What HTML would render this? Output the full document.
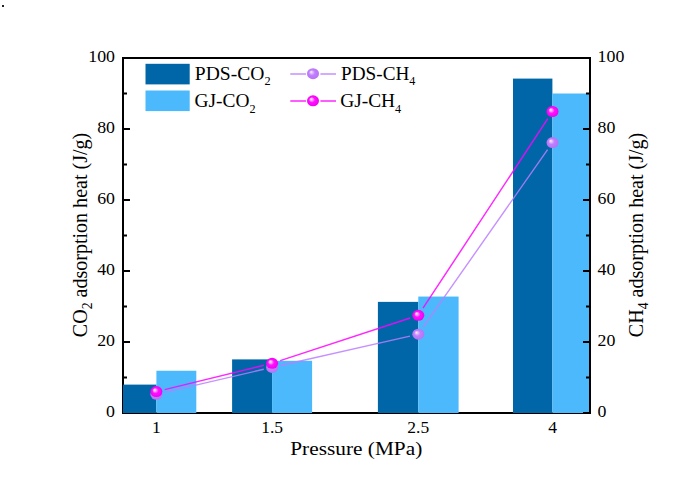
<!DOCTYPE html><html><head><meta charset="utf-8"><style>html,body{margin:0;padding:0;background:#fff;width:685px;height:495px;overflow:hidden}svg{display:block}text{font-family:"Liberation Serif",serif;fill:#000}</style></head><body>
<svg width="685" height="495" viewBox="0 0 685 495">
<defs>
<radialGradient id="gm" cx="0.5" cy="0.5" r="0.5" fx="0.33" fy="0.33">
<stop offset="0" stop-color="#fff4ff"/><stop offset="0.22" stop-color="#ffa8ff"/><stop offset="0.5" stop-color="#ff10ff"/><stop offset="1" stop-color="#f000f0"/></radialGradient>
<radialGradient id="gl" cx="0.5" cy="0.5" r="0.5" fx="0.33" fy="0.33">
<stop offset="0" stop-color="#fbf6ff"/><stop offset="0.22" stop-color="#e0c0ff"/><stop offset="0.5" stop-color="#c27eff"/><stop offset="1" stop-color="#b673f5"/></radialGradient>
<clipPath id="cp"><rect x="123" y="58" width="466" height="355"/></clipPath>
</defs>
<rect x="2" y="5" width="2" height="2" fill="#222"/>
<rect x="123" y="58" width="467" height="355" fill="none" stroke="#000" stroke-width="2"/>
<path d="M123 413.0h7M123 377.5h4M123 342.0h7M123 306.5h4M123 271.0h7M123 235.5h4M123 200.0h7M123 164.5h4M123 129.0h7M123 93.5h4M123 58.0h7" stroke="#000" stroke-width="2" fill="none"/>
<g clip-path="url(#cp)">
<rect x="116.5" y="384.60" width="39.9" height="28.40" fill="#0066a8"/>
<rect x="156.4" y="370.75" width="39.9" height="42.25" fill="#4bb9fc"/>
<rect x="232.1" y="359.39" width="40.0" height="53.61" fill="#0066a8"/>
<rect x="272.1" y="360.81" width="40.0" height="52.19" fill="#4bb9fc"/>
<rect x="377.9" y="301.88" width="40.4" height="111.12" fill="#0066a8"/>
<rect x="418.3" y="296.56" width="40.3" height="116.44" fill="#4bb9fc"/>
<rect x="513.0" y="78.59" width="39.4" height="334.41" fill="#0066a8"/>
<rect x="552.4" y="93.50" width="40.0" height="319.50" fill="#4bb9fc"/>
</g>
<path d="M590 413.0h-7M590 377.5h-4M590 342.0h-7M590 306.5h-4M590 271.0h-7M590 235.5h-4M590 200.0h-7M590 164.5h-4M590 129.0h-7M590 93.5h-4M590 58.0h-7" stroke="#000" stroke-width="2" fill="none"/>
<text transform="matrix(1.02 0 0 1.0 115 417.45)" font-size="17.5" text-anchor="end">0</text>
<text transform="matrix(1.02 0 0 1.0 597.6 417.45)" font-size="17.5">0</text>
<text transform="matrix(1.02 0 0 1.0 115 346.45)" font-size="17.5" text-anchor="end">20</text>
<text transform="matrix(1.02 0 0 1.0 597.6 346.45)" font-size="17.5">20</text>
<text transform="matrix(1.02 0 0 1.0 115 275.45)" font-size="17.5" text-anchor="end">40</text>
<text transform="matrix(1.02 0 0 1.0 597.6 275.45)" font-size="17.5">40</text>
<text transform="matrix(1.02 0 0 1.0 115 204.45)" font-size="17.5" text-anchor="end">60</text>
<text transform="matrix(1.02 0 0 1.0 597.6 204.45)" font-size="17.5">60</text>
<text transform="matrix(1.02 0 0 1.0 115 133.45)" font-size="17.5" text-anchor="end">80</text>
<text transform="matrix(1.02 0 0 1.0 597.6 133.45)" font-size="17.5">80</text>
<text transform="matrix(1.02 0 0 1.0 115 62.45)" font-size="17.5" text-anchor="end">100</text>
<text transform="matrix(1.02 0 0 1.0 597.6 62.45)" font-size="17.5">100</text>
<text x="156.4" y="433" font-size="17.5" text-anchor="middle">1</text>
<text x="272.1" y="433" font-size="17.5" text-anchor="middle">1.5</text>
<text x="418.3" y="433" font-size="17.5" text-anchor="middle">2.5</text>
<text x="552.5" y="433" font-size="17.5" text-anchor="middle">4</text>
<text transform="matrix(1.0661 0 0 0.9944 290.27 455.07)" font-size="20">Pressure (MPa)</text>
<text transform="matrix(1.0582 0 0 1.0320 194.77 80.14)" font-size="18.5">PDS-CO<tspan font-size="11.65" dy="5.10">2</tspan></text>
<text transform="matrix(1.0474 0 0 1.0480 194.51 107.34)" font-size="18.5">GJ-CO<tspan font-size="11.65" dy="5.10">2</tspan></text>
<text transform="matrix(1.0380 0 0 1.0320 341.08 80.14)" font-size="18.5">PDS-CH<tspan font-size="11.65" dy="5.10">4</tspan></text>
<text transform="matrix(1.0480 0 0 1.0480 340.21 107.34)" font-size="18.5">GJ-CH<tspan font-size="11.65" dy="5.10">4</tspan></text>
<text transform="matrix(0 -1.0027 1.0500 0 86.54 337.15)" font-size="20">CO<tspan font-size="13.60" dy="5.40">2</tspan><tspan dy="-5.40"> adsorption heat (J/g)</tspan></text>
<text transform="matrix(0 -1.0027 1.0389 0 642.58 337.15)" font-size="20">CH<tspan font-size="13.60" dy="5.40">4</tspan><tspan dy="-5.40"> adsorption heat (J/g)</tspan></text>
<path d="M164.7 392.4L263.8 369.3M280.4 365.5L410.0 336.1M423.2 327.2L547.6 149.6" stroke="#bb7cff" stroke-width="1.4" stroke-opacity="0.85" fill="none"/>
<path d="M164.7 389.6L263.8 365.3M280.2 360.6L410.2 318.0M423.0 308.2L547.8 118.6" stroke="#ff00ff" stroke-width="1.45" stroke-opacity="0.85" fill="none"/>
<ellipse cx="156.4" cy="394.3" rx="6" ry="5.5" fill="url(#gl)"/>
<ellipse cx="272.1" cy="367.4" rx="6" ry="5.5" fill="url(#gl)"/>
<ellipse cx="418.3" cy="334.2" rx="6" ry="5.5" fill="url(#gl)"/>
<ellipse cx="552.5" cy="142.6" rx="6" ry="5.5" fill="url(#gl)"/>
<ellipse cx="156.4" cy="391.6" rx="6" ry="5.5" fill="url(#gm)"/>
<ellipse cx="272.1" cy="363.3" rx="6" ry="5.5" fill="url(#gm)"/>
<ellipse cx="418.3" cy="315.3" rx="6" ry="5.5" fill="url(#gm)"/>
<ellipse cx="552.5" cy="111.5" rx="6" ry="5.5" fill="url(#gm)"/>
<rect x="145.5" y="63.8" width="44.2" height="20.6" fill="#0066a8"/>
<rect x="145.5" y="90.5" width="44.2" height="20.6" fill="#4bb9fc"/>
<path d="M290.3 74.1H306M320.4 74.1H336" stroke="#bb7cff" stroke-width="1.5" stroke-opacity="0.85"/>
<path d="M290.3 101H306M320.4 101H336" stroke="#ff00ff" stroke-width="1.6" stroke-opacity="0.85"/>
<ellipse cx="313" cy="73.7" rx="6" ry="5.5" fill="url(#gl)"/>
<ellipse cx="313" cy="100.8" rx="6" ry="5.5" fill="url(#gm)"/>
</svg></body></html>
